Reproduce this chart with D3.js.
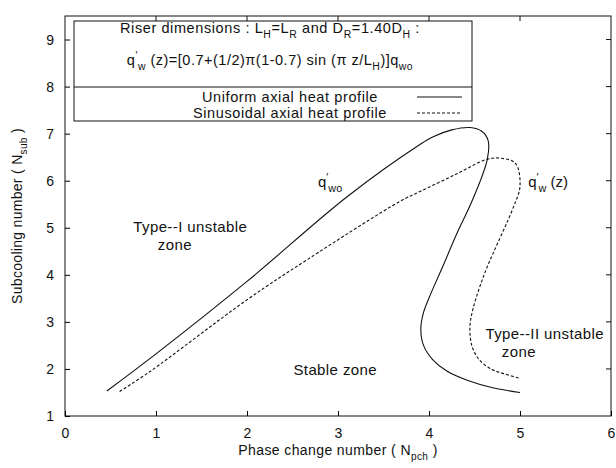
<!DOCTYPE html>
<html>
<head>
<meta charset="utf-8">
<script src="https://cdn.jsdelivr.net/npm/d3@7"></script>
<style>
body { margin: 0; background: #fff; }
text { font-family: "Liberation Sans", Arial, sans-serif; fill: #111; }
</style>
</head>
<body>
<svg id="chart" width="616" height="468"></svg>
<script>
// axis ticks
const xTicks = [0, 1, 2, 3, 4, 5, 6]
const yTicks = [1, 2, 3, 4, 5, 6, 7, 8, 9]

// uniform axial heat profile (solid)
const uniformX = [0.46, 1.0, 2.0, 3.1, 3.9, 4.04, 4.25, 4.45, 4.58, 4.65, 4.64, 4.48, 4.3, 4.15, 4.02, 3.94, 3.91, 3.94, 4.04, 4.2, 4.42, 4.7, 5.0]
const uniformY = [1.53, 2.32, 3.86, 5.66, 6.77, 6.93, 7.08, 7.13, 7.05, 6.85, 6.45, 5.6, 4.85, 4.17, 3.6, 3.2, 2.85, 2.5, 2.2, 1.95, 1.76, 1.6, 1.5]

// sinusoidal axial heat profile (dashed)
const sinusoidalX = [0.6, 0.93, 2.0, 2.66, 3.68, 3.9, 4.3, 4.63, 4.78, 4.95, 5.0, 4.93, 4.64, 4.55, 4.48, 4.45, 4.47, 4.55, 4.68, 4.82, 5.0]
const sinusoidalY = [1.52, 1.94, 3.47, 4.32, 5.56, 5.77, 6.14, 6.45, 6.48, 6.37, 5.88, 5.45, 4.17, 3.7, 3.25, 2.9, 2.5, 2.2, 2.0, 1.9, 1.8]

const legendNames = ['Uniform axial heat profile', 'Sinusoidal axial heat profile']

const W = 616, H = 468
const margin = { left: 65, right: 5, top: 16, bottom: 52 }

const svg = d3.select('#chart')

const x = d3.scaleLinear().domain([0, 6]).range([margin.left, W - margin.right])
const y = d3.scaleLinear().domain([1, 9.5]).range([H - margin.bottom, margin.top])

// write text with sub/superscripts, parts = [[text, 'sub'|'sup'|null], ...]
function richText(sel, parts, size) {
    let off = 0
    parts.forEach(([t, kind]) => {
        let target = kind === 'sub' ? size * 0.35 : kind === 'sup' ? -size * 0.4 : 0
        sel.append('tspan')
            .attr('dy', target - off)
            .style('font-size', (kind ? size * 0.72 : size) + 'px')
            .text(t)
        off = target
    })
    return sel
}

// frame
svg.append('rect')
    .attr('x', x(0)).attr('y', y(9.5))
    .attr('width', x(6) - x(0)).attr('height', y(1) - y(9.5))
    .attr('fill', 'none').attr('stroke', '#111').attr('stroke-width', 1)

// axes, inward ticks
const xAxis = svg.append('g')
    .attr('transform', 'translate(0,' + y(1) + ')')
    .call(d3.axisBottom(x).tickValues(xTicks).tickFormat(d3.format('d'))
        .tickSizeInner(-5).tickSizeOuter(0).tickPadding(12))
xAxis.select('.domain').remove()
xAxis.selectAll('text').style('font-size', '14px')

const yAxis = svg.append('g')
    .attr('transform', 'translate(' + x(0) + ',0)')
    .call(d3.axisLeft(y).tickValues(yTicks).tickFormat(d3.format('d'))
        .tickSizeInner(-5).tickSizeOuter(0).tickPadding(11))
yAxis.select('.domain').remove()
yAxis.selectAll('text').style('font-size', '14px')

// mirrored ticks on top and right
svg.append('g').selectAll('line')
    .data(xTicks.slice(1, -1)).enter().append('line')
    .attr('x1', d => x(d)).attr('x2', d => x(d))
    .attr('y1', y(9.5)).attr('y2', y(9.5) + 5)
    .attr('stroke', '#111')
svg.append('g').selectAll('line')
    .data(yTicks.slice(1)).enter().append('line')
    .attr('x1', x(6)).attr('x2', x(6) - 5)
    .attr('y1', d => y(d)).attr('y2', d => y(d))
    .attr('stroke', '#111')

// curves
const line = d3.line()
    .x(d => x(d[0]))
    .y(d => y(d[1]))
    .curve(d3.curveCatmullRom.alpha(0.5))

svg.append('path')
    .datum(uniformX.map((v, i) => [v, uniformY[i]]))
    .attr('d', line)
    .attr('fill', 'none').attr('stroke', '#111').attr('stroke-width', 1.1)

svg.append('path')
    .datum(sinusoidalX.map((v, i) => [v, sinusoidalY[i]]))
    .attr('d', line)
    .attr('fill', 'none').attr('stroke', '#111').attr('stroke-width', 1.1)
    .attr('stroke-dasharray', '3,2')

// legend box
const lg = svg.append('g')
lg.append('rect')
    .attr('x', 74).attr('y', 21).attr('width', 398).attr('height', 100)
    .attr('fill', '#fff').attr('stroke', '#111')
lg.append('line')
    .attr('x1', 74).attr('x2', 472).attr('y1', 87).attr('y2', 87)
    .attr('stroke', '#111')

richText(lg.append('text').attr('x', 270).attr('y', 33).attr('text-anchor', 'middle')
        .style('letter-spacing', '0.6px'),
    [['Riser dimensions : L', null], ['H', 'sub'], ['=L', null], ['R', 'sub'],
     [' and D', null], ['R', 'sub'], ['=1.40D', null], ['H', 'sub'], [' :', null]], 14.5)

richText(lg.append('text').attr('x', 270).attr('y', 65).attr('text-anchor', 'middle')
        .style('letter-spacing', '0.5px'),
    [['q', null], ['\u2032', 'sup'], ['w', 'sub'], [' (z)=[0.7+(1/2)\u03c0(1-0.7) sin (\u03c0 z/L', null], ['H', 'sub'],
     [')]q', null], ['wo', 'sub']], 14.5)

lg.selectAll('.lname')
    .data(legendNames).enter().append('text')
    .attr('class', 'lname')
    .attr('x', 290).attr('y', (d, i) => 102 + i * 16)
    .attr('text-anchor', 'middle')
    .style('font-size', '14.5px')
    .style('letter-spacing', '0.6px')
    .text(d => d)

lg.selectAll('.lsample')
    .data(legendNames).enter().append('line')
    .attr('x1', 417).attr('x2', 462)
    .attr('y1', (d, i) => 97 + i * 16).attr('y2', (d, i) => 97 + i * 16)
    .attr('stroke', '#111').attr('stroke-width', 1.1)
    .attr('stroke-dasharray', (d, i) => i ? '3,2' : null)

// zone annotations (data coordinates)
const notes = [
    { t: 'Type--I unstable', nx: 0.75, ny: 4.91 },
    { t: 'zone', nx: 1.02, ny: 4.53 },
    { t: 'Stable zone', nx: 2.51, ny: 1.87 },
    { t: 'Type--II unstable', nx: 4.62, ny: 2.64 },
    { t: 'zone', nx: 4.8, ny: 2.26 }
]
svg.selectAll('.note')
    .data(notes).enter().append('text')
    .attr('class', 'note')
    .attr('x', d => x(d.nx)).attr('y', d => y(d.ny))
    .style('font-size', '15px')
    .style('letter-spacing', '0.4px')
    .text(d => d.t)

richText(svg.append('text').attr('x', x(2.78)).attr('y', y(5.87)),
    [['q', null], ['\u2032', 'sup'], ['wo', 'sub']], 15)
richText(svg.append('text').attr('x', x(5.09)).attr('y', y(5.87)),
    [['q', null], ['\u2032', 'sup'], ['w', 'sub'], [' (z)', null]], 15)

// axis titles
richText(svg.append('text').attr('x', 338).attr('y', 455).attr('text-anchor', 'middle')
        .style('letter-spacing', '0.4px'),
    [['Phase change number ( N', null], ['pch', 'sub'], [' )', null]], 14)

richText(svg.append('text').attr('transform', 'translate(22,' + y(5.25) + ') rotate(-90)').attr('text-anchor', 'middle')
        .style('letter-spacing', '0.3px'),
    [['Subcooling number ( N', null], ['sub', 'sub'], [' )', null]], 14)
</script>
</body>
</html>
